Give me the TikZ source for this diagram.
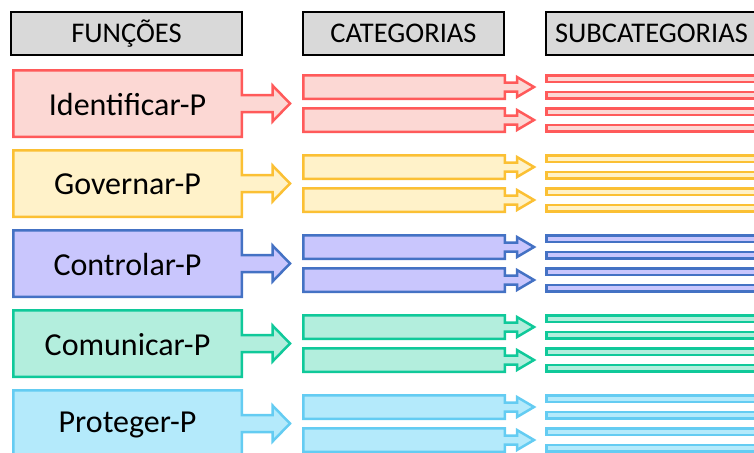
\documentclass[tikz,border=0pt]{standalone}
\usepackage{fontspec}
\setmainfont{Carlito}
\usepackage{tikz}

\definecolor{linhaverm}{HTML}{FF5A5A}
\definecolor{fundoverm}{HTML}{FCD8D4}
\definecolor{linhaamar}{HTML}{FBC034}
\definecolor{fundoamar}{HTML}{FFF2C9}
\definecolor{linhaazul}{HTML}{4472C4}
\definecolor{fundoazul}{HTML}{C9C6FD}
\definecolor{linhaverd}{HTML}{10C99A}
\definecolor{fundoverd}{HTML}{B3EEDD}
\definecolor{linhacian}{HTML}{64CCF2}
\definecolor{fundocian}{HTML}{B4EAFB}
\definecolor{fundocab}{HTML}{D9D9D9}

\tikzset{
	cabecalho/.style={draw=black, line width=2pt, fill=fundocab, minimum height=43pt,
		inner sep=0pt, font=\fontsize{28.5}{30}\selectfont},
	funcao/.style={font=\fontsize{32}{36}\selectfont, inner sep=0pt},
	forma/.style={line width=2.5pt, miter limit=4}
}

\begin{document}
\begin{tikzpicture}[x=1pt,y=-1pt]
	\useasboundingbox (0,0) rectangle (754,452);
	% cabecalhos
	\node[cabecalho, minimum width=231pt] (funcoes) at (126.5,33.5) {FUNÇÕES};
	\node[cabecalho, minimum width=201pt] (categorias) at (403.5,33.5) {CATEGORIAS};
	\node[cabecalho, minimum width=211pt] (subcategorias) at (651.5,33.5) {SUBCATEGORIAS};
	% linhas
	\foreach \r/\nome/\cor in {0/Identificar-P/verm, 1/Governar-P/amar, 2/Controlar-P/azul,
		3/Comunicar-P/verd, 4/Proteger-P/cian}{
	\begin{scope}[shift={(0,103.5+80*\r)}]
		%\fill[red] (0,0) circle (2);
		\draw[forma, draw=linha\cor, fill=fundo\cor] (13.25,-33.25) -- (241.75,-33.25)
			-- (241.75,-8.5) -- (272.5,-8.5) -- (272.5,-18) -- (290,0) -- (272.5,18)
			-- (272.5,8.5) -- (241.75,8.5) -- (241.75,33.25) -- (13.25,33.25) -- cycle;
		\node[funcao] (f\r) at (127.5,1) {\nome};
		\foreach \o in {-16.5,16.5}{
			\draw[forma, draw=linha\cor, fill=fundo\cor] (303.25,{\o-11.75}) -- (504.75,{\o-11.75})
				-- (504.75,{\o-4.5}) -- (517,{\o-4.5}) -- (517,{\o-10}) -- (534,\o) -- (517,{\o+10})
				-- (517,{\o+4.5}) -- (504.75,{\o+4.5}) -- (504.75,{\o+11.75}) -- (303.25,{\o+11.75}) -- cycle;
		}
		\foreach \o in {-24.75,-8.25,8.25,24.75}{
			\draw[forma, draw=linha\cor, fill=fundo\cor] (546.25,{\o-3.25}) rectangle (790,{\o+3.25});
		}
	\end{scope}
	}
\end{tikzpicture}
\end{document}
